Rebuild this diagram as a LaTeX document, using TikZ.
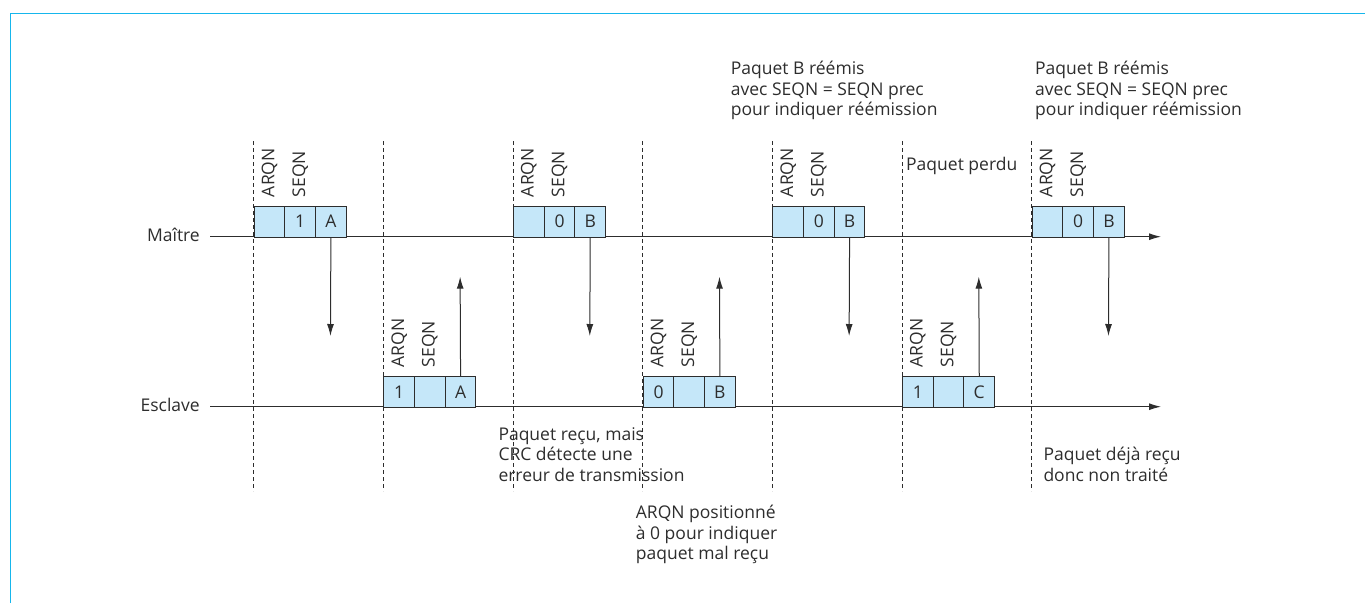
\documentclass[tikz,border=0pt]{standalone}
\usepackage{fontspec}
\setmainfont{Open Sans}
\usetikzlibrary{arrows.meta}
\definecolor{framecyan}{RGB}{22,182,236}
\definecolor{cellblue}{RGB}{197,231,249}
\definecolor{ink}{RGB}{45,45,45}
\begin{document}
\begin{tikzpicture}[x=1pt,y=-1pt,
  every node/.style={text=ink, font=\fontsize{17.5}{20.5}\selectfont},
  cell/.style={draw=ink, fill=cellblue, line width=0.9pt, minimum width=30.7pt,
    minimum height=31pt, inner sep=0pt, anchor=north west},
  tag/.style={rotate=90, anchor=west, inner sep=0pt},
  note/.style={anchor=base west, align=left, inner sep=0pt},
  guide/.style={draw=ink, line width=0.8pt, dash pattern=on 4pt off 3pt},
  axis/.style={draw=ink, line width=1pt, -{Latex[length=12pt,width=7pt]}},
  flow/.style={draw=ink, line width=1pt, -{Latex[length=12pt,width=7pt]}},
]
\useasboundingbox (0,0) rectangle (1365,603);
% frame
\draw[framecyan, line width=1.6pt] (10.5,603) -- (10.5,13.5) -- (1365,13.5);

% time slot boundaries
\foreach \k in {0,...,6} {
  \pgfmathsetmacro\xx{253.7+129.67*\k}
  \draw[guide] (\xx,141) -- (\xx,491);
}

% time axes
\node[anchor=base east, inner sep=0pt] (maitre) at (200,241.7) {Maître};
\node[anchor=base east, inner sep=0pt] (esclave) at (200,411.7) {Esclave};
\coordinate (m0) at (210,236.7);
\coordinate (m9) at (1161,236.7);
\coordinate (e0) at (210,406.7);
\coordinate (e9) at (1161,406.7);
\draw[axis] (m0) -- (m9);
\draw[axis] (e0) -- (e9);

% master packets
\foreach \k/\s/\l [count=\i] in {0/1/A,2/0/B,4/0/B,6/0/B} {
  \pgfmathsetmacro\xx{253.7+129.67*\k}
  \node[cell] (m\i a) at (\xx,205.7) {};
  \node[cell] (m\i b) at (\xx+30.7,205.7) {\s};
  \node[cell] (m\i c) at (\xx+61.4,205.7) {\l};
  \node[tag] (ma\i) at ([yshift=8.5pt]m\i a.north) {ARQN};
  \node[tag] (ms\i) at ([yshift=8.5pt]m\i b.north) {SEQN};
  \coordinate (md\i) at (\xx+76.75,336);
  \draw[flow] (m\i c.south) -- (md\i);
}

% slave packets
\foreach \k/\a/\l [count=\i] in {1/1/A,3/0/B,5/1/C} {
  \pgfmathsetmacro\xx{253.7+129.67*\k}
  \node[cell] (e\i a) at (\xx,376) {\a};
  \node[cell] (e\i b) at (\xx+30.7,376) {};
  \node[cell] (e\i c) at (\xx+61.4,376) {\l};
  \node[tag] (ea\i) at ([yshift=8.5pt]e\i a.north) {ARQN};
  \node[tag] (es\i) at ([yshift=8.5pt]e\i b.north) {SEQN};
  \coordinate (eu\i) at (\xx+76.75,276.7);
  \draw[flow] (e\i c.north) -- (eu\i);
}

% annotations (placed by the baseline of their last line)
\node[note] (n1) at (730.7,115.5) {Paquet B réémis\\avec SEQN = SEQN prec\\pour indiquer réémission};
\node[note] (n2) at (1035,115.5) {Paquet B réémis\\avec SEQN = SEQN prec\\pour indiquer réémission};
\node[note] (n3) at (906,170.7) {Paquet perdu};
\node[note] (n4) at (498.3,481) {Paquet reçu, mais\\CRC détecte une\\erreur de transmission};
\node[note] (n5) at (635.7,559.5) {ARQN positionné\\à 0 pour indiquer\\paquet mal reçu};
\node[note] (n6) at (1043.3,481) {Paquet déjà reçu\\donc non traité};
\end{tikzpicture}
\end{document}
